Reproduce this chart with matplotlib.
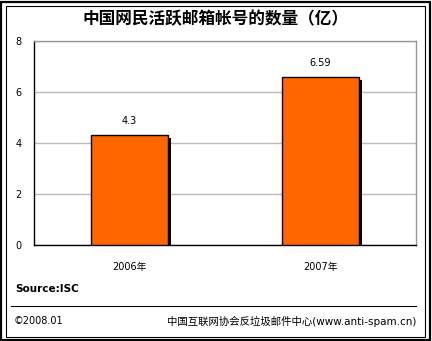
import matplotlib
matplotlib.use("Agg")
import matplotlib.pyplot as plt
import matplotlib.patheffects as pe
from matplotlib.patches import Rectangle
from matplotlib.lines import Line2D

plt.rcParams['font.family'] = ['DejaVu Sans', 'Noto Sans CJK SC']

years = ['2006年', '2007年']
accounts = [4.3, 6.59]
value_labels = ['4.3', '6.59']
yticks = [0, 2, 4, 6, 8]

W, H = 432, 341
fig = plt.figure(figsize=(W / 100, H / 100), dpi=100)

# plot area in pixel terms: x 34..416, y 41..245
ax = fig.add_axes([34 / W, 1 - 245 / H, 382 / W, 204 / H])
x = range(len(years))
bars = ax.bar(x, accounts, width=0.4, color='#ff6600', edgecolor='black',
              linewidth=1.0, zorder=3)
for b in bars:
    b.set_path_effects([pe.SimplePatchShadow(offset=(2.2, -2.2), shadow_rgbFace='black',
                                             alpha=1.0), pe.Normal()])
for xi, v, lab in zip(x, accounts, value_labels):
    ax.text(xi, v + 0.35, lab, ha='center', va='bottom', fontsize=7, zorder=4)

ax.set_xlim(-0.5, 1.5)
ax.set_ylim(0, 8)
ax.set_yticks(yticks)
ax.set_xticks(list(x))
ax.set_xticklabels(years, fontsize=7)
ax.tick_params(axis='both', length=0, labelsize=7)
ax.tick_params(axis='y', pad=9)
ax.tick_params(axis='x', pad=12)
ax.yaxis.grid(True, color='#bbbbbb', linewidth=1.0)
ax.set_axisbelow(True)
ax.spines['top'].set_color('#999999')
ax.spines['right'].set_color('#999999')
ax.spines['left'].set_color('black')
ax.spines['bottom'].set_color('black')
for s in ax.spines.values():
    s.set_linewidth(1.0)

fig.text(0.5, 1 - 19 / H, '中国网民活跃邮箱帐号的数量（亿）', ha='center', va='center',
         fontsize=12, fontweight='bold', family=['Noto Sans CJK SC'])
fig.text(15 / W, 1 - 289 / H, 'Source:ISC', ha='left', va='center',
         fontsize=7.5, fontweight='bold')
fig.text(14 / W, 1 - 321 / H, '©2008.01', ha='left', va='center', fontsize=7)
fig.text(416 / W, 1 - 321 / H, '中国互联网协会反垃圾邮件中心(www.anti-spam.cn)',
         ha='right', va='center', fontsize=7.5)

# separator above the footer
fig.add_artist(Line2D([11 / W, 416 / W], [1 - 305.5 / H] * 2, color='black', linewidth=0.8))

# double frame round the whole figure
fig.add_artist(Rectangle((1 / W, 1 / H), 429 / W, 338 / H, fill=False,
                         edgecolor='black', linewidth=1.6))
fig.add_artist(Rectangle((5.5 / W, 4.5 / H), 419 / W, 331 / H, fill=False,
                         edgecolor='black', linewidth=0.8))

fig.savefig('out.png', dpi=100)
